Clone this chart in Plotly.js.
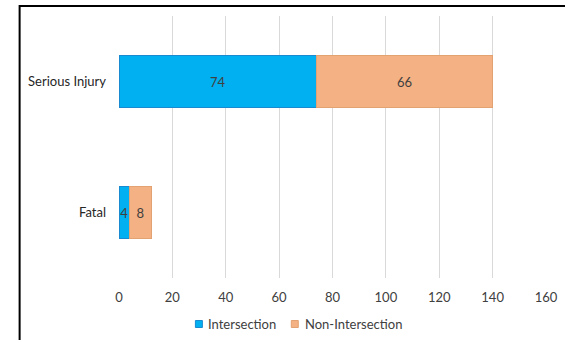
<!DOCTYPE html>
<html>
<head>
<meta charset="utf-8">
<script src="https://cdn.plot.ly/plotly-3.0.1.min.js"></script>
<style>
  html, body { margin: 0; padding: 0; background: #fff; }
  #chart { width: 565px; height: 340px; }
</style>
</head>
<body>
<div id="chart"></div>
<script>
// Crash severity by location type
const categories = ['Fatal', 'Serious Injury'];
const intersection = [4, 74];
const nonIntersection = [8, 66];
const seriesNames = ['Intersection', 'Non-Intersection'];
const seriesColors = ['#00B0F0', '#F4B183'];
const seriesEdges = ['#1a8ad0', '#e3a271'];
const xTicks = [0, 20, 40, 60, 80, 100, 120, 140, 160];

const FONT = 'Lato, "Liberation Sans", sans-serif';
const TEXT = '#404040';

// plot-area geometry in pixels, used to place the legend keys in paper units
const W = 565, H = 340;
const M = { l: 118.5, r: 19, t: 16, b: 62 };
const pw = W - M.l - M.r, ph = H - M.t - M.b;
const px = v => (v - M.l) / pw;
const py = v => (H - M.b - v) / ph;

function barTrace(i, values) {
  return {
    type: 'bar',
    orientation: 'h',
    name: seriesNames[i],
    y: categories,
    x: values,
    text: values.map(String),
    textposition: 'inside',
    insidetextanchor: 'middle',
    constraintext: 'none',
    textfont: { family: FONT, size: 13, color: TEXT },
    marker: { color: seriesColors[i], line: { color: seriesEdges[i], width: 1 } },
    hoverinfo: 'x+name',
    showlegend: false
  };
}

const data = [barTrace(0, intersection), barTrace(1, nonIntersection)];

// legend keys: small squares followed by series names
const legendKeys = [{ sq: 195, tx: 206 }, { sq: 291, tx: 303 }];
const legendY = 324;
const shapes = legendKeys.map((k, i) => ({
  type: 'rect', xref: 'paper', yref: 'paper',
  x0: px(k.sq), x1: px(k.sq + 7), y0: py(legendY + 3.5), y1: py(legendY - 3.5),
  fillcolor: seriesColors[i], line: { color: seriesEdges[i], width: 1 }
}));
const annotations = legendKeys.map((k, i) => ({
  xref: 'paper', yref: 'paper', x: px(k.tx), y: py(legendY),
  xanchor: 'left', yanchor: 'middle', showarrow: false,
  text: seriesNames[i], font: { family: FONT, size: 13, color: TEXT }
}));

// outer frame; only its top and left edges fall inside the page
shapes.push({
  type: 'rect', xref: 'paper', yref: 'paper',
  x0: px(19), x1: px(600), y0: py(380), y1: py(6),
  line: { color: '#000', width: 2 }, fillcolor: 'rgba(0,0,0,0)'
});

const layout = {
  width: W,
  height: H,
  margin: Object.assign({ autoexpand: false }, M),
  barmode: 'stack',
  bargap: 0.6,
  paper_bgcolor: '#fff',
  plot_bgcolor: '#fff',
  font: { family: FONT, size: 13, color: TEXT },
  showlegend: false,
  xaxis: {
    range: [0, 160],
    tickvals: xTicks,
    ticktext: xTicks.map(String),
    showgrid: true,
    gridcolor: '#d9d9d9',
    gridwidth: 1,
    zeroline: false,
    showline: false,
    ticks: '',
    ticklabelstandoff: 10,
    tickfont: { family: FONT, size: 13, color: TEXT },
    fixedrange: true
  },
  yaxis: {
    categoryorder: 'array',
    categoryarray: categories,
    showgrid: false,
    zeroline: false,
    showline: false,
    ticks: '',
    ticklabelstandoff: 12,
    tickfont: { family: FONT, size: 13, color: '#262626' },
    fixedrange: true
  },
  shapes: shapes,
  annotations: annotations
};

Plotly.newPlot('chart', data, layout, { displayModeBar: false, staticPlot: true });
</script>
</body>
</html>
